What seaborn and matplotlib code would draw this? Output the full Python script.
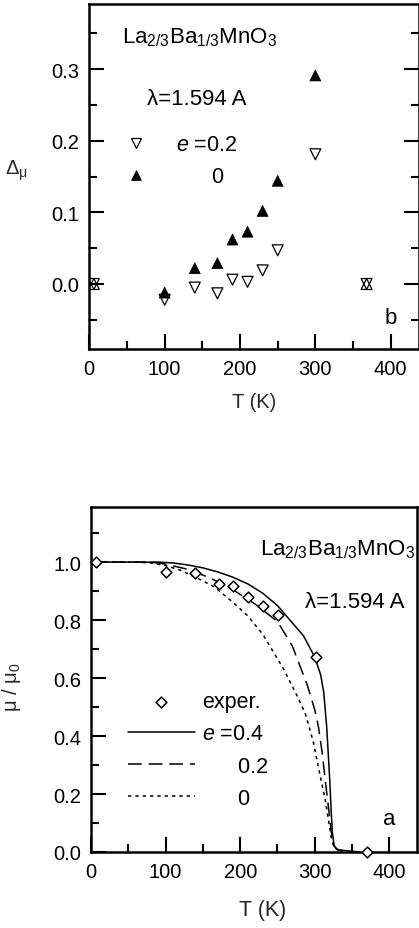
import numpy as np
import pandas as pd
import matplotlib
matplotlib.use("Agg")
import matplotlib.pyplot as plt
from matplotlib.ticker import MultipleLocator, FormatStrFormatter
from matplotlib.lines import Line2D
import seaborn as sns

# ---------------- data: panel b (top) ----------------
T_delta = [6, 100, 140, 170, 190, 210, 230, 250, 300, 368]
delta_e0 = [0.0, -0.012, 0.022, 0.029, 0.062, 0.073, 0.102, 0.144, 0.291, 0.0]
delta_e02 = [0.0, -0.022, -0.005, -0.013, 0.006, 0.003, 0.019, 0.047, 0.181, 0.0]

# ---------------- data: panel a (bottom) ----------------
T_exp = [7, 100, 140, 171, 191, 210, 231, 251, 301, 370]
mu_exp = [1.0, 0.967, 0.962, 0.926, 0.916, 0.879, 0.848, 0.818, 0.671, 0.0]

T_e04 = [0, 90, 110, 130, 150, 170, 190, 210, 230, 250, 270, 285, 300, 308, 312,
         316, 320, 322, 323.5, 326, 330, 345, 360]
mu_e04 = [1.0, 1.0, 0.997, 0.99, 0.98, 0.966, 0.948, 0.925, 0.893, 0.85, 0.79,
          0.745, 0.672, 0.61, 0.55, 0.43, 0.25, 0.14, 0.07, 0.02, 0.008, 0.004, 0.0]

T_e02 = [0, 80, 100, 130, 160, 190, 220, 250, 270, 290, 300, 305, 310, 315, 319,
         322, 325, 330, 340]
mu_e02 = [1.0, 1.0, 0.993, 0.975, 0.945, 0.905, 0.855, 0.795, 0.71, 0.575, 0.49,
          0.43, 0.34, 0.225, 0.14, 0.07, 0.025, 0.008, 0.003]

T_e0 = [0, 60, 80, 100, 120, 140, 165, 190, 210, 230, 258, 275, 287, 298, 307,
        314, 319, 322, 326, 335]
mu_e0 = [1.0, 1.0, 0.997, 0.988, 0.972, 0.948, 0.915, 0.862, 0.815, 0.752, 0.632,
         0.545, 0.48, 0.38, 0.265, 0.18, 0.10, 0.05, 0.015, 0.004]

xticks = [0, 100, 200, 300, 400]
formula = r"La$_{2/3}$Ba$_{1/3}$MnO$_3$"
wavelength = "λ=1.594 A"

# ---------------- style ----------------
sns.set_style("ticks")
plt.rcParams["font.family"] = ["Liberation Sans", "DejaVu Sans"]
plt.rcParams.update({
    "mathtext.fontset": "custom",
    "mathtext.rm": "Liberation Sans",
    "mathtext.it": "Liberation Sans:italic",
    "mathtext.bf": "Liberation Sans:bold",
    "mathtext.sf": "Liberation Sans",
    "axes.linewidth": 1.8,
    "axes.edgecolor": "black",
    "text.color": "black",
    "xtick.color": "black",
    "ytick.color": "black",
})

TICK_FS = 14.5
TXT_FS = 16

fig = plt.figure(figsize=(4.19, 9.29), dpi=100)
W, H = 419.0, 929.0
ax1 = fig.add_axes([89.3 / W, 1 - 350 / H, (418.6 - 89.3) / W, 345 / H])
ax2 = fig.add_axes([91.0 / W, 1 - 853 / H, 326.0 / W, 345 / H])


def style_ticks(ax, right):
    ax.tick_params(which="both", direction="in", top=False, right=right,
                   labelsize=TICK_FS, width=1.5, colors="black")
    ax.tick_params(which="major", length=11, pad=7)
    ax.tick_params(which="minor", length=5.5)
    ax.set_xlim(0, 437)
    ax.set_xticks(xticks)
    ax.xaxis.set_minor_locator(MultipleLocator(50))
    ax.yaxis.set_major_formatter(FormatStrFormatter("%.1f"))


# ---------------- panel b ----------------
sns.scatterplot(x=T_delta, y=delta_e02, marker="v", s=62, color="black",
                linewidth=0.9, ax=ax1, zorder=3)
open_tri = ax1.collections[-1]
open_tri.set_facecolor("none")
open_tri.set_edgecolor("black")
sns.scatterplot(x=T_delta, y=delta_e0, marker="^", s=62, color="black",
                edgecolor="black", linewidth=0.5, ax=ax1, zorder=3)
filled_tri = ax1.collections[-1]
# the two reference points (both series = 0) are drawn as overlapping open symbols
n = len(T_delta)
fcs = [(0, 0, 0, 0) if i in (0, n - 1) else (0, 0, 0, 1) for i in range(n)]
lws = [0.9 if i in (0, n - 1) else 0.5 for i in range(n)]
filled_tri.set_facecolors(fcs)
filled_tri.set_linewidths(lws)

ax1.set_ylim(-0.0907, 0.3907)
ax1.yaxis.set_major_locator(MultipleLocator(0.1))
ax1.yaxis.set_minor_locator(MultipleLocator(0.05))
style_ticks(ax1, right=True)
ax1.set_xlabel("T (K)", fontsize=TICK_FS, labelpad=10)
ax1.set_ylabel(r"Δ$_{\mathrm{\mu}}$", fontsize=TICK_FS, rotation=0,
               ha="center", va="center")
ax1.yaxis.set_label_coords(-0.22, 0.52)

ax1.text(0.098, 0.89, formula, transform=ax1.transAxes, fontsize=TXT_FS,
         ha="left", va="baseline")
ax1.text(0.175, 0.71, wavelength, transform=ax1.transAxes, fontsize=TXT_FS,
         ha="left", va="baseline")
ax1.text(0.898, 0.075, "b", transform=ax1.transAxes, fontsize=TXT_FS,
         ha="left", va="baseline")

h_open = Line2D([], [], marker="v", ls="", ms=7.9, mfc="none", mec="black", mew=0.9)
h_fill = Line2D([], [], marker="^", ls="", ms=7.9, mfc="black", mec="black", mew=0.5)
ax1.legend(handles=[h_open, h_fill],
           labels=[r"$e$ =0.2", "      0"],
           loc="upper left", bbox_to_anchor=(0.109, 0.622), frameon=False,
           fontsize=TICK_FS + 1, handlelength=1.0, handletextpad=1.35,
           labelspacing=0.5, borderpad=0, borderaxespad=0)

# ---------------- panel a ----------------
sns.lineplot(x=T_e04, y=mu_e04, color="black", lw=1.1, sort=False,
             estimator=None, ax=ax2, label=r"$e$ =0.4")
sns.lineplot(x=T_e02, y=mu_e02, color="black", lw=1.1, sort=False,
             estimator=None, ax=ax2, linestyle=(0, (9, 4.5)), label="      0.2")
sns.lineplot(x=T_e0, y=mu_e0, color="black", lw=1.1, sort=False,
             estimator=None, ax=ax2, linestyle=(0, (2.2, 2.6)), label="      0")
sns.scatterplot(x=T_exp, y=mu_exp, marker="D", s=30, color="white",
                edgecolor="black", linewidth=1.1, ax=ax2, zorder=4,
                clip_on=False, label="exper.")

ax2.set_ylim(0, 1.19)
ax2.yaxis.set_major_locator(MultipleLocator(0.2))
ax2.yaxis.set_minor_locator(MultipleLocator(0.1))
style_ticks(ax2, right=False)
ax2.set_xlabel("T (K)", fontsize=TICK_FS + 1, labelpad=9)
ax2.xaxis.set_label_coords(0.525, -0.135)
ax2.set_ylabel("μ / μ$_0$", fontsize=TICK_FS)
ax2.yaxis.set_label_coords(-0.21, 0.48)

ax2.text(0.518, 0.864, formula, transform=ax2.transAxes, fontsize=TXT_FS,
         ha="left", va="baseline")
ax2.text(0.656, 0.709, wavelength, transform=ax2.transAxes, fontsize=TXT_FS,
         ha="left", va="baseline")
ax2.text(0.896, 0.081, "a", transform=ax2.transAxes, fontsize=TXT_FS,
         ha="left", va="baseline")

h, l = ax2.get_legend_handles_labels()
order = [l.index("exper."), l.index(r"$e$ =0.4"), l.index("      0.2"), l.index("      0")]
ax2.legend(handles=[h[i] for i in order], labels=[l[i] for i in order],
           loc="upper left", bbox_to_anchor=(0.1135, 0.466), frameon=False,
           fontsize=TICK_FS + 1, handlelength=3.1, handletextpad=0.35,
           labelspacing=0.52, borderpad=0, borderaxespad=0, scatterpoints=1)

fig.savefig("out.png", dpi=100)
